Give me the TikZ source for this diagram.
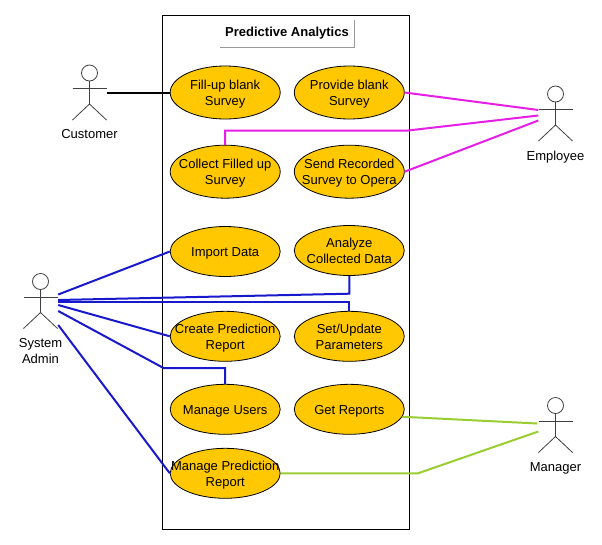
\documentclass[tikz,border=0pt]{standalone}
\usepackage{fontspec}
\setmainfont{Liberation Sans}
\usetikzlibrary{shapes.geometric}
\definecolor{ucfill}{HTML}{FFC800}
\definecolor{magline}{HTML}{E61EE6}
\definecolor{blueline}{HTML}{1818CC}
\definecolor{greenline}{HTML}{9ACD32}
\tikzset{
  usecase/.style={ellipse,draw=black,line width=0.8pt,fill=ucfill,minimum width=110pt,minimum height=50pt,inner sep=0pt,font=\fontsize{13}{16}\selectfont},
  tallcase/.style={usecase,minimum height=53pt},
  actorbar/.style={inner sep=0pt,minimum width=34pt,minimum height=0pt},
  stick/.style={draw=black!75,line width=0.8pt},
  actorlabel/.style={inner sep=0pt,align=center,font=\fontsize{13}{16}\selectfont},
  custline/.style={draw=black,line width=2pt},
  magconn/.style={draw=magline,line width=2pt},
  blueconn/.style={draw=blueline,line width=2pt},
  greenconn/.style={draw=greenline,line width=2pt},
  sysbox/.style={draw=black,line width=0.9pt,fill=white},
  titlerule/.style={draw=black!40,line width=0.8pt}
}
\newcommand{\uctext}[1]{\smash{\raisebox{-4.5pt}{\makebox[0pt]{\begin{tabular}{@{}c@{}}#1\end{tabular}}}}}
\newcommand{\actorfig}[5]{%
  \node[actorbar] (#1) at (#2,#3) {};
  \begin{scope}[shift={(#2,#3)}]
    \draw[stick] (0,-15.5) circle[radius=8pt];
    \draw[stick] (-17,0) -- (17,0);
    \draw[stick] (0,-7.5) -- (0,15.5);
    \draw[stick] (-17,31.5) -- (0,15.5) -- (17,31.5);
  \end{scope}
  \node[actorlabel] (#1label) at (#2,#4) {#5};
}
\begin{document}
\begin{tikzpicture}[x=1pt,y=-1pt]
\useasboundingbox (0,0) rectangle (602,544);
\node[sysbox,rectangle,minimum width=247pt,minimum height=514pt,inner sep=0pt] (system) at (286,272.4) {};
\node[inner sep=0pt,font=\fontsize{13}{14}\selectfont\bfseries] (title) at (287,33.5) {Predictive Analytics};
\coordinate (ruleA) at (220,47.5);
\coordinate (ruleB) at (354.5,47.5);
\coordinate (ruleC) at (354.5,20);
\draw[titlerule] (ruleA) -- (ruleB) -- (ruleC);

\actorfig{customer}{89.5}{88.5}{134}{Customer}
\actorfig{employee}{555.5}{109.5}{157}{Employee}
\actorfig{admin}{40.5}{297}{351}{System\\Admin}
\actorfig{manager}{555.5}{421}{468}{Manager}

\node[tallcase] (fill) at (225.2,92.5) {\uctext{Fill-up blank\\Survey}};
\node[tallcase] (provide) at (349.3,92.5) {\uctext{Provide blank\\Survey}};
\node[tallcase] (collect) at (225.2,171.7) {\uctext{Collect Filled up\\Survey}};
\node[tallcase] (send) at (349.3,171.7) {\uctext{Send Recorded\\Survey to Opera}};
\node[usecase] (import) at (225.2,251.5) {\uctext{Import Data}};
\node[usecase] (analyze) at (349.3,250.5) {\uctext{Analyze\\Collected Data}};
\node[usecase] (create) at (225.2,336.3) {\uctext{Create Prediction\\Report}};
\node[usecase] (param) at (349.3,336.3) {\uctext{Set/Update\\Parameters}};
\node[usecase] (users) at (225.2,409.3) {\uctext{Manage Users}};
\node[usecase] (reports) at (349.3,409.3) {\uctext{Get Reports}};
\node[usecase] (predict) at (225.2,473.3) {\uctext{Manage Prediction\\Report}};

\draw[custline] ([shift={(0,4)}]customer.east) -- (fill.west);

\draw[magconn] (provide.east) -- ([shift={(0,0.5)}]employee.west);
\coordinate (bendA) at (408,130.5);
\draw[magconn] (collect.north) |- (bendA) -- ([shift={(0,6)}]employee.west);
\draw[magconn] (send.east) -- ([shift={(0,11)}]employee.west);

\draw[blueconn] ([shift={(0.5,-2.5)}]admin.east) -- (import.west);
\coordinate (bendB) at (349.3,293.7);
\draw[blueconn] ([shift={(0.5,3)}]admin.east) -- (bendB) -- (analyze.south);
\coordinate (bendC) at (349.3,301.5);
\draw[blueconn] ([shift={(0.5,4.5)}]admin.east) -- (bendC) -- (param.north);
\draw[blueconn] ([shift={(0.5,8)}]admin.east) -- (create.west);
\coordinate (bendD) at (163.5,368);
\draw[blueconn] ([shift={(0.5,14)}]admin.east) -- (bendD) -| (users.north);
\draw[blueconn] ([shift={(0.5,28)}]admin.east) -- (predict.west);

\draw[greenconn] (reports.-8) -- ([shift={(-1,2.5)}]manager.west);
\coordinate (bendE) at (418,473.3);
\draw[greenconn] (predict.east) -- (bendE) -- ([shift={(0,10.5)}]manager.west);
\end{tikzpicture}
\end{document}
